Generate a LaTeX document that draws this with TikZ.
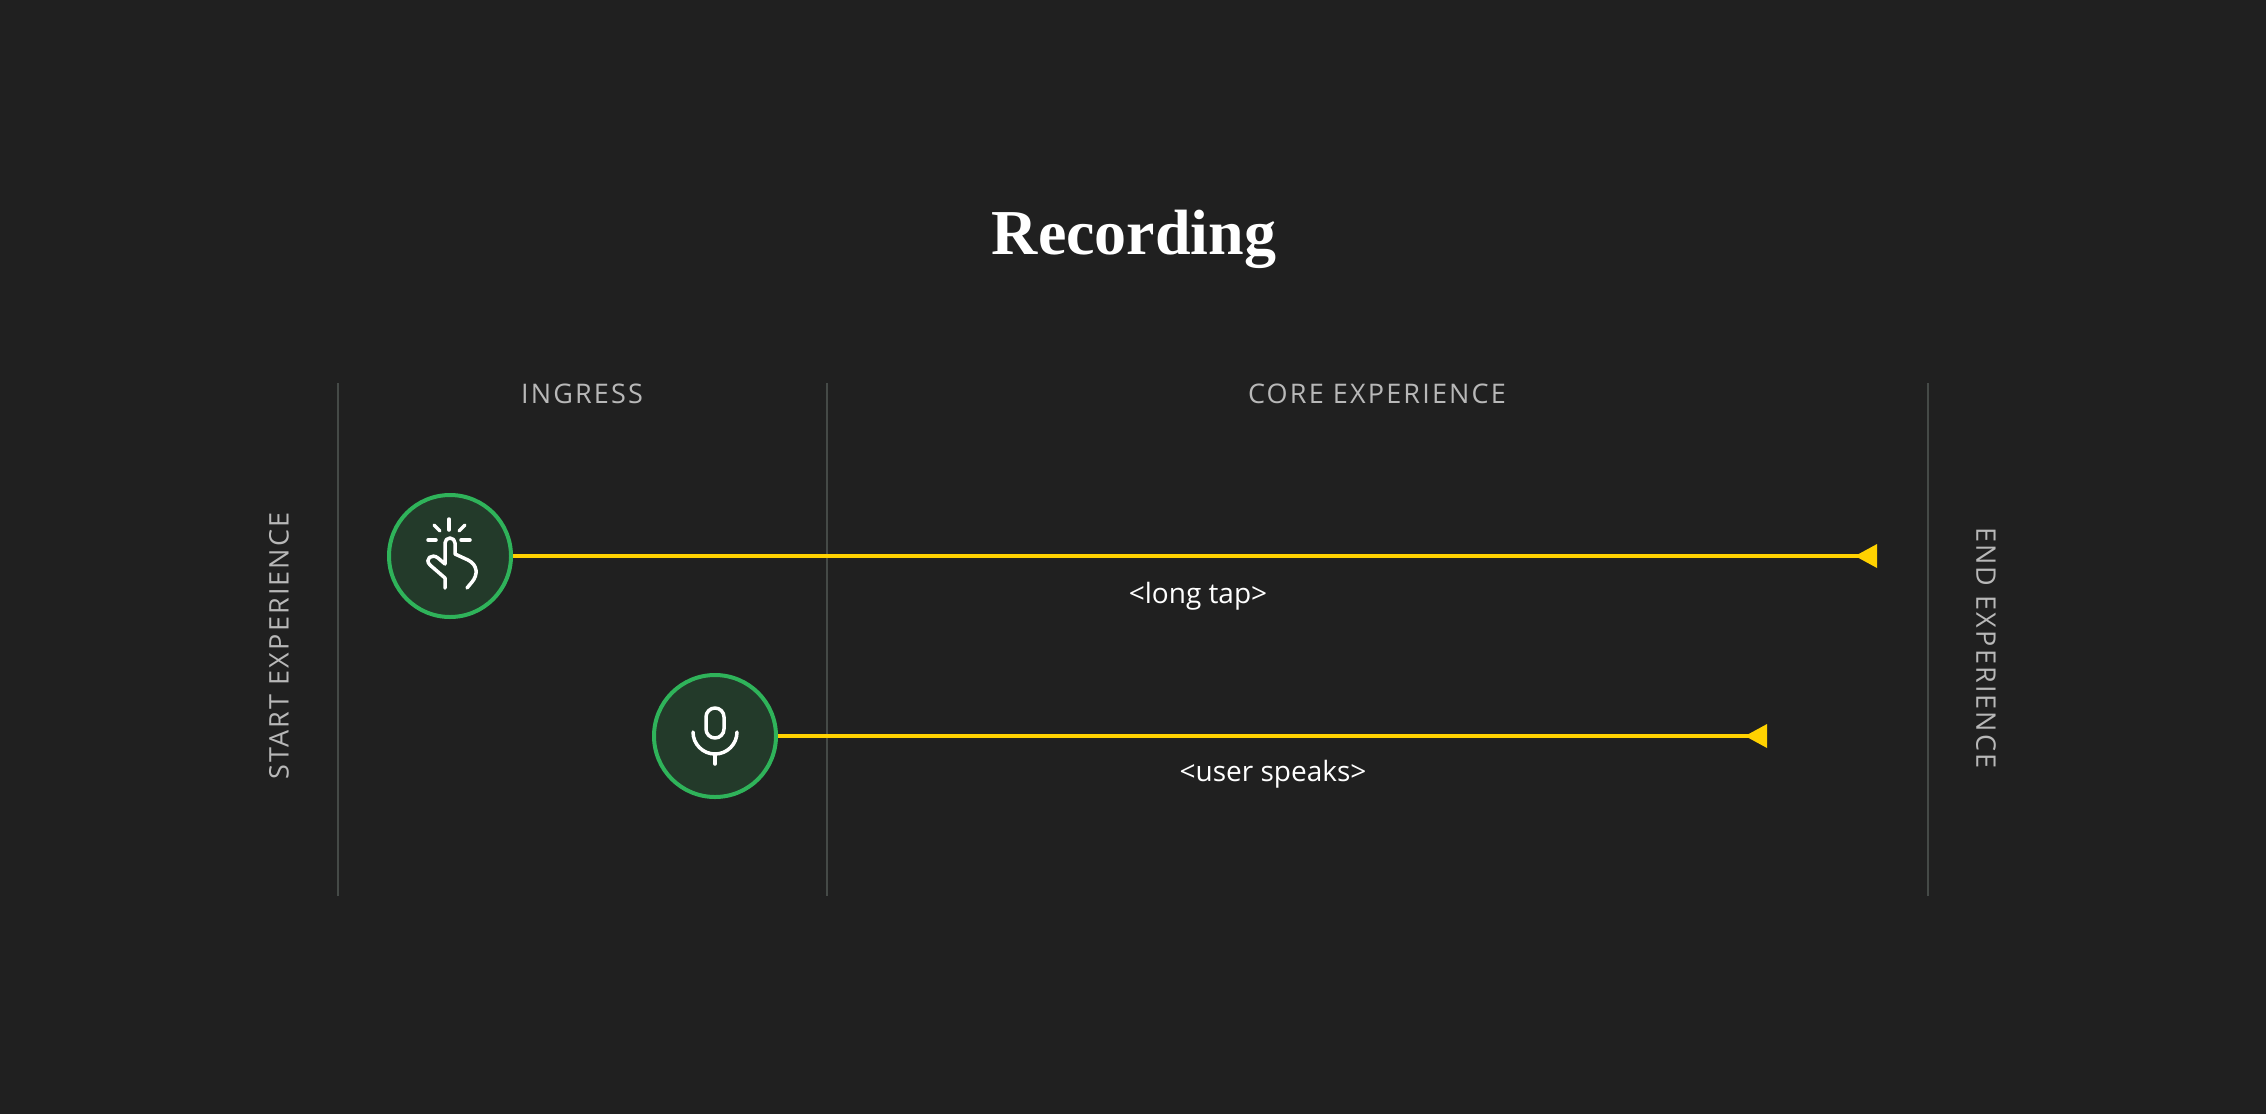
\documentclass[tikz,border=0pt]{standalone}
\usepackage{fontspec}
\setmainfont{Open Sans}
\newfontfamily\titlefont{Liberation Serif}
\usetikzlibrary{arrows.meta}
\definecolor{bg}{HTML}{202020}
\definecolor{yel}{HTML}{FFD200}
\definecolor{grn}{HTML}{2FB35A}
\definecolor{grnfill}{HTML}{233A2A}
\definecolor{lbl}{HTML}{B8B8B8}
\definecolor{sep}{HTML}{454A47}
\tikzset{
  phase/.style={text=lbl,font=\fontsize{27}{30}\selectfont\addfontfeatures{LetterSpace=8}},
  iconcircle/.style={circle,draw=grn,line width=4pt,fill=grnfill,minimum size=122pt,inner sep=0},
  flow/.style={draw=yel,line width=4pt},
  note/.style={text=white,font=\fontsize{28}{32}\selectfont},
  sepline/.style={draw=sep,line width=1.5pt},
  icon/.style={draw=white,line width=3.5pt,line cap=round,line join=round}
}
\begin{document}
\begin{tikzpicture}[x=1pt,y=-1pt]
\fill[bg] (0,0) rectangle (2266,1114);
\useasboundingbox (0,0) rectangle (2266,1114);
\node (title) at (1134,239) {\titlefont\bfseries\color{white}\fontsize{64}{70}\selectfont Recording};
\node[phase] (ingress) at (582,394) {INGRESS};
\node[phase] (core) at (1377,394) {CORE EXPERIENCE};
\node[phase,rotate=90] (start) at (279,646) {START EXPERIENCE};
\node[phase,rotate=-90] (end) at (1986,648) {END EXPERIENCE};
\coordinate (s1a) at (338,383); \coordinate (s1b) at (338,896);
\coordinate (s2a) at (827,383); \coordinate (s2b) at (827,896);
\coordinate (s3a) at (1928,383); \coordinate (s3b) at (1928,896);
\draw[sepline] (s1a) -- (s1b);
\draw[sepline] (s2a) -- (s2b);
\draw[sepline] (s3a) -- (s3b);
\node[iconcircle] (tap) at (450,556) {};
\node[iconcircle] (mic) at (715,736) {};
\coordinate (e1) at (1877,556);
\coordinate (e2) at (1767,736);
\draw[flow] (tap.east) -- (e1);
\draw[flow] (mic.east) -- (e2);
\fill[yel] (e1) ++(0,-12) -- ++(0,24) -- ++(-22,-12) -- cycle;
\fill[yel] (e2) ++(0,-12) -- ++(0,24) -- ++(-22,-12) -- cycle;
\node[note] (l1) at (1198,596) {<long tap>};
\node[note] (l2) at (1273,774) {<user speaks>};
% hand icon
\begin{scope}[shift={(tap.center)}]
\draw[icon] (-5,32) -- (-5,22) -- (-20,9) .. controls (-26,3) and (-18,-3) .. (-12,2) -- (-5,8) -- (-5,-13) arc(180:360:5) -- (5,-2) -- (18,4) .. controls (28,9) and (28,19) .. (22,26) -- (17,32);
\draw[icon] (-1,-37) -- (-1,-26);
\draw[icon] (-16,-31) -- (-10,-25);
\draw[icon] (15,-31) -- (9,-25);
\draw[icon] (-22,-16) -- (-14,-16);
\draw[icon] (11,-16) -- (20,-16);
\end{scope}
% mic icon
\begin{scope}[shift={(mic.center)}]
\draw[icon] (-9,-19) arc(180:360:9) -- (9,-7) arc(0:180:9) -- cycle;
\draw[icon] (-22,-4) arc(180:0:22);
\draw[icon] (0,18) -- (0,28);
\end{scope}
\end{tikzpicture}
\end{document}
